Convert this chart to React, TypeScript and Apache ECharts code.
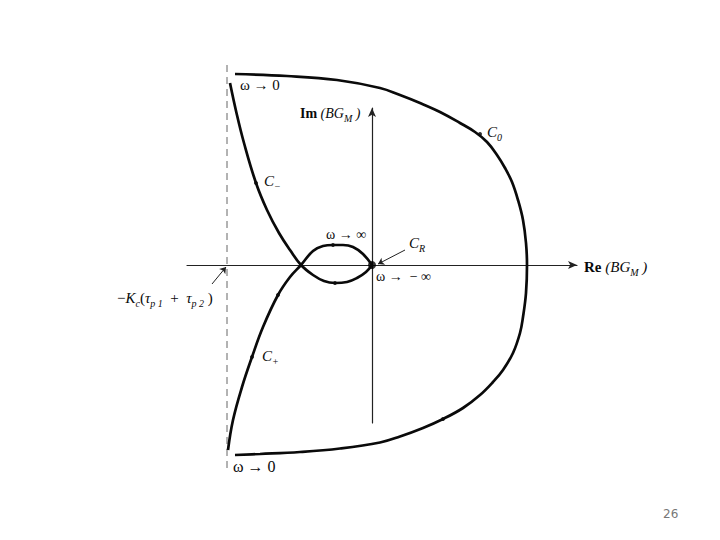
import React, { useEffect, useRef } from 'react';
import * as echarts from 'echarts';

// Outer contour C0 (from ω→0 at top-left, around, to ω→0 at bottom-left)
const outerRe = [-13.7, -8.5, -3.5, 0.8, 2.8, 4.8, 6.8, 8.8, 10.3, 11.5, 12.5, 13.3, 14.0, 14.6, 15.1, 15.4, 15.5, 15.4, 15.1, 14.8, 14.1, 13.1, 12.1, 10.8, 9.1, 7.1, 5.1, 2.8, 0.8, -3.2, -7.2, -11.2, -13.7];
const outerIm = [19.1, 18.9, 18.5, 17.7, 17.0, 16.2, 15.3, 14.2, 13.3, 12.3, 11.0, 9.7, 8.3, 6.5, 4.5, 2.2, 0, -2.8, -5.2, -6.8, -8.8, -10.5, -11.7, -13.0, -14.3, -15.4, -16.3, -17.15, -17.75, -18.35, -18.7, -18.9, -19.0];
// C- branch: ω→0 (top-left) down through crossing, lower lobe, to origin
const cMinusRe = [-14.2, -13.55, -12.8, -11.6, -10.5, -9.3, -8.2, -7.1, -5.9, -4.8, -3.7, -2.5, -1.5, -0.6, 0];
const cMinusIm = [18.2, 15.2, 12.2, 8.2, 5.5, 3.2, 1.5, 0, -1.0, -1.6, -1.8, -1.7, -1.3, -0.7, 0];
// C+ branch: ω→0 (bottom-left) up through crossing, upper lobe, to origin
const cPlusRe = [-14.4, -13.9, -13.0, -12.0, -10.9, -9.4, -8.2, -7.1, -5.9, -4.9, -3.9, -2.9, -1.9, -0.9, 0];
const cPlusIm = [-18.5, -15.5, -12.2, -9.2, -6.2, -3.0, -1.2, 0, 1.4, 1.9, 2.0, 2.0, 1.8, 1.1, 0];
// direction marks along the curves
const dotRe = [10.8, 7.1, -11.6, -12.0, -9.4, -3.9, -3.7];
const dotIm = [13.1, -15.4, 8.2, -9.2, -3.0, 2.0, -1.8];
// asymptote -Kc(τp1+τp2)
const asymRe = -14.5;
const asymIm = [20.0, -20.8];
// annotation arrows (from, to)
const crArrow = [[3.3, 1.5], [0.6, 0.1]];
const kcArrow = [[-16.0, -1.9], [-14.6, -0.2]];

const zip = (a: number[], b: number[]) => a.map((v, i) => [v, b[i]]);

const serif = 'Liberation Serif';
const ink = '#0a0a0a';
const sub = { fontSize: 10, lineHeight: 9, verticalAlign: 'bottom', fontFamily: serif, fontStyle: 'italic', fill: ink };
const ital = { fontStyle: 'italic', fontFamily: serif, fill: ink, lineHeight: 20 };
const bold = { fontWeight: 'bold', fontFamily: serif, fill: ink, lineHeight: 20 };

function label(x: number, y: number, text: string, fontSize = 14, extra: any = {}) {
  return {
    type: 'text',
    x,
    y,
    z: 100,
    style: {
      text,
      fontSize,
      fontFamily: serif,
      fill: ink,
      lineHeight: 20,
      verticalAlign: 'middle',
      rich: {
        i: { ...ital, fontSize },
        b: { ...bold, fontSize },
        s: sub,
      },
      ...extra,
    },
  };
}

export default function App() {
  const ref = useRef<HTMLDivElement>(null);
  useEffect(() => {
    const chart = echarts.init(ref.current!, null, { renderer: 'svg' });
    const curveStyle = { color: '#0a0a0a', width: 2.7 };
    chart.setOption({
      animation: false,
      backgroundColor: '#fff',
      grid: { left: 187, right: 143, top: 108, bottom: 117 },
      xAxis: {
        type: 'value', min: -18.5, max: 20.5,
        axisLine: { onZero: true, symbol: ['none', 'arrow'], symbolSize: [6, 9], lineStyle: { color: '#222', width: 1.2 } },
        axisTick: { show: false }, axisLabel: { show: false }, splitLine: { show: false },
      },
      yAxis: {
        type: 'value', min: -15.8, max: 15.7,
        axisLine: { onZero: true, symbol: ['none', 'arrow'], symbolSize: [6, 9], lineStyle: { color: '#222', width: 1.2 } },
        axisTick: { show: false }, axisLabel: { show: false }, splitLine: { show: false },
      },
      series: [
        {
          type: 'line', data: [[asymRe, asymIm[0]], [asymRe, asymIm[1]]], clip: false, showSymbol: false,
          lineStyle: { color: '#666', width: 1, type: [7, 5] }, silent: true,
        },
        { type: 'line', data: zip(outerRe, outerIm), smooth: 0.4, clip: false, showSymbol: false, lineStyle: curveStyle },
        { type: 'line', data: zip(cMinusRe, cMinusIm), smooth: 0.4, clip: false, showSymbol: false, lineStyle: curveStyle },
        { type: 'line', data: zip(cPlusRe, cPlusIm), smooth: 0.4, clip: false, showSymbol: false, lineStyle: curveStyle },
        {
          type: 'scatter', data: zip(dotRe, dotIm), symbolSize: 4, itemStyle: { color: '#000' }, clip: false,
          markLine: {
            silent: true, symbol: ['none', 'arrow'], symbolSize: 6,
            lineStyle: { color: '#222', width: 1, type: 'solid' }, label: { show: false },
            data: [
              [{ coord: crArrow[0] }, { coord: crArrow[1] }],
              [{ coord: kcArrow[0] }, { coord: kcArrow[1] }],
            ],
          },
        },
        { type: 'scatter', data: [[0, 0]], symbolSize: 8, itemStyle: { color: '#000' } },
      ],
      graphic: [
        label(240, 85, 'ω → 0', 15),
        label(300, 113, '{b|Im} {i|(BG}{s|M}{i| )}', 14),
        label(487, 132, '{i|C}{s|0}', 15),
        label(264, 181, '{i|C}{s|−}', 15),
        label(326, 234, 'ω → ∞', 14),
        label(409, 243, '{i|C}{s|R}', 15),
        label(584, 267, '{b|Re} {i|(BG}{s|M}{i| )}', 15),
        label(376, 276, 'ω →  − ∞', 14),
        label(117, 298, '−{i|K}{s|c}({i|τ}{s|p 1}  +  {i|τ}{s|p 2} )', 15),
        label(262, 356, '{i|C}{s|+}', 15),
        label(233, 466, 'ω → 0', 16),
        {
          type: 'text', x: 663, y: 514, z: 100,
          style: { text: '26', fontSize: 12, fontFamily: 'DejaVu Sans', fill: '#777', verticalAlign: 'middle' },
        },
      ],
    });
    return () => chart.dispose();
  }, []);
  return <div ref={ref} style={{ position: 'fixed', left: 0, top: 0, width: 720, height: 540, background: '#fff' }} />;
}
